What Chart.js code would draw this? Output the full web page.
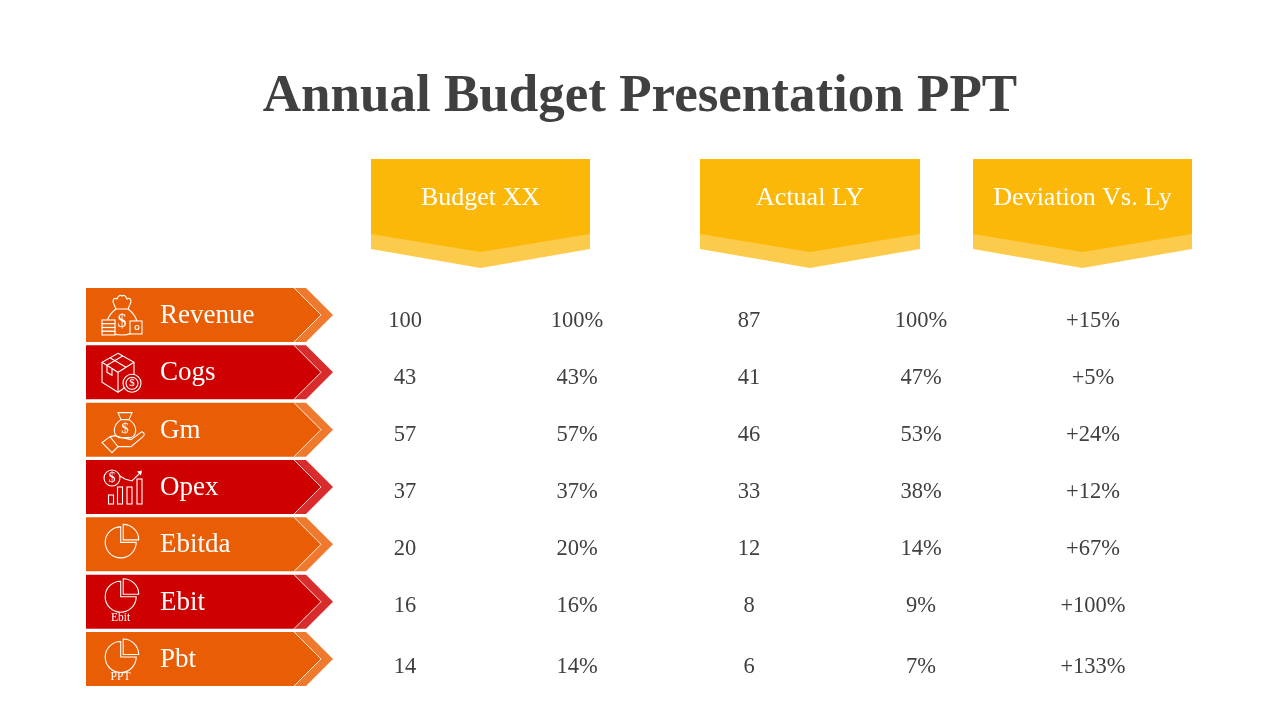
<!DOCTYPE html>
<html>
<head>
<meta charset="utf-8">
<title>Annual Budget Presentation PPT</title>
<script src="https://cdn.jsdelivr.net/npm/chart.js@4"></script>
<style>
  html, body { margin: 0; padding: 0; background: #fff; }
  canvas { display: block; }
</style>
</head>
<body>
<canvas id="budgetChart" width="1280" height="720"></canvas>
<script>
// Values
const chartTitle = 'Annual Budget Presentation PPT';
const headers = ['Budget XX', 'Actual LY', 'Deviation Vs. Ly'];
const rows = ['Revenue', 'Cogs', 'Gm', 'Opex', 'Ebitda', 'Ebit', 'Pbt'];
const columns = ['Budget', 'Budget %', 'Actual', 'Actual %', 'Deviation'];
const budgetValues = [100, 43, 57, 37, 20, 16, 14];
const budgetShares = [100, 43, 57, 37, 20, 16, 14];
const actualValues = [87, 41, 46, 33, 12, 8, 6];
const actualShares = [100, 47, 53, 38, 14, 9, 7];
const deviations = [15, 5, 24, 12, 67, 100, 133];

const SERIF = '"Liberation Serif", serif';
const ORANGE = ['#E95E05', '#EF7A2E'];
const RED = ['#CE0000', '#D92D2D'];
const TEXT = '#404040';

// text sits slightly below the arrow centre, the last row a bit more
const cellNudge = [5, 5, 4, 4, 4, 3, 7];

function cells(column, values, format) {
  return {
    label: column,
    data: rows.map((row) => ({ x: column, y: row })),
    cellText: values.map(format),
    pointRadius: 0,
    pointHoverRadius: 0
  };
}

const plain = (v) => String(v);
const percent = (v) => v + '%';
const signed = (v) => '+' + v + '%';

function path(ctx, pts, close) {
  ctx.beginPath();
  pts.forEach((p, i) => (i ? ctx.lineTo(p[0], p[1]) : ctx.moveTo(p[0], p[1])));
  if (close) ctx.closePath();
}

function smallText(ctx, text, x, y, size) {
  ctx.save();
  ctx.fillStyle = '#fff';
  ctx.font = size + 'px ' + SERIF;
  ctx.textAlign = 'center';
  ctx.textBaseline = 'middle';
  ctx.fillText(text, x, y);
  ctx.restore();
}

// Icons are drawn around the row centre, y = 0 is the middle of the arrow
function iconRevenue(ctx, fill) {
  ctx.beginPath();
  ctx.moveTo(116, -6);
  ctx.bezierCurveTo(108, 0, 105, 8, 108, 14);
  ctx.quadraticCurveTo(111, 20, 122, 20);
  ctx.quadraticCurveTo(133, 20, 136, 14);
  ctx.bezierCurveTo(139, 8, 136, 0, 128, -6);
  ctx.closePath();
  ctx.stroke();
  ctx.beginPath();
  ctx.moveTo(116, -6);
  ctx.lineTo(113, -13);
  ctx.quadraticCurveTo(113, -18, 117, -16);
  ctx.quadraticCurveTo(119, -21, 122, -19);
  ctx.quadraticCurveTo(125, -21, 127, -16);
  ctx.quadraticCurveTo(131, -18, 131, -13);
  ctx.lineTo(128, -6);
  ctx.stroke();
  ctx.fillStyle = fill;
  ctx.fillRect(130, 6, 12, 13);
  ctx.strokeRect(130, 6, 12, 13);
  ctx.beginPath();
  ctx.arc(137, 12.5, 2, 0, Math.PI * 2);
  ctx.stroke();
  for (let i = 0; i < 4; i++) {
    ctx.fillStyle = fill;
    ctx.fillRect(102, 5 + i * 3.8, 13, 3.6);
    ctx.strokeRect(102, 5 + i * 3.8, 13, 3.6);
  }
  smallText(ctx, '$', 122, 7, 18);
}

function iconCogs(ctx, fill) {
  path(ctx, [[118, -19], [134, -10], [134, 9], [118, 20], [102, 10], [102, -10]], true);
  ctx.stroke();
  path(ctx, [[102, -10], [118, 0], [134, -10]]);
  ctx.stroke();
  path(ctx, [[118, 0], [118, 20]]);
  ctx.stroke();
  path(ctx, [[110, -14.5], [126, -5]]);
  ctx.stroke();
  path(ctx, [[107, -7], [123, -16.5]]);
  ctx.stroke();
  path(ctx, [[107, -7], [107, 0], [112, 3], [112, -3.5]]);
  ctx.stroke();
  ctx.fillStyle = fill;
  ctx.beginPath();
  ctx.arc(132, 11, 9, 0, Math.PI * 2);
  ctx.fill();
  ctx.stroke();
  ctx.beginPath();
  ctx.arc(132, 11, 6, 0, Math.PI * 2);
  ctx.stroke();
  smallText(ctx, '$', 132, 11, 11);
}

function iconGm(ctx, fill) {
  ctx.beginPath();
  ctx.moveTo(121, -10);
  ctx.bezierCurveTo(113, -5, 112, 5, 119, 8);
  ctx.lineTo(131, 8);
  ctx.bezierCurveTo(138, 5, 137, -5, 129, -10);
  ctx.closePath();
  ctx.stroke();
  path(ctx, [[121, -10], [118, -17], [132, -17], [129, -10]]);
  ctx.stroke();
  smallText(ctx, '$', 125, -1, 15);
  path(ctx, [[102, 13], [110, 7], [118, 17], [112, 23]], true);
  ctx.stroke();
  ctx.beginPath();
  ctx.moveTo(110, 7);
  ctx.lineTo(115, 6);
  ctx.lineTo(122, 8);
  ctx.lineTo(131, 10);
  ctx.lineTo(142, 2);
  ctx.quadraticCurveTo(146, 4, 143, 7);
  ctx.lineTo(131, 17);
  ctx.lineTo(118, 17);
  ctx.stroke();
}

function iconOpex(ctx) {
  ctx.beginPath();
  ctx.arc(112, -9, 8, 0, Math.PI * 2);
  ctx.stroke();
  smallText(ctx, '$', 112, -9, 14);
  path(ctx, [[120, -11], [125, -8], [132, -6], [141, -15]]);
  ctx.stroke();
  path(ctx, [[137, -15.5], [142, -16.5], [141, -11.5]], true);
  ctx.fillStyle = '#fff';
  ctx.fill();
  ctx.strokeRect(108.5, 8, 5, 9);
  ctx.strokeRect(117.5, 0, 5, 17);
  ctx.strokeRect(127, 0, 5, 17);
  ctx.strokeRect(137, -8, 5, 25);
}

function iconPie(ctx, dy, caption) {
  ctx.beginPath();
  ctx.arc(120.7, dy, 15.5, 0, Math.PI * 1.5);
  ctx.lineTo(120.7, dy);
  ctx.closePath();
  ctx.stroke();
  ctx.beginPath();
  ctx.moveTo(123.2, dy - 2.5);
  ctx.arc(123.2, dy - 2.5, 15.5, -Math.PI / 2, 0);
  ctx.closePath();
  ctx.stroke();
  if (caption) smallText(ctx, caption.text, 120.5, caption.y, 11.5);
}

const rowIcons = [
  iconRevenue,
  iconCogs,
  iconGm,
  iconOpex,
  (ctx) => iconPie(ctx, -2),
  (ctx) => iconPie(ctx, -5, { text: 'Ebit', y: 16 }),
  (ctx) => iconPie(ctx, -2, { text: 'PPT', y: 18 })
];

// Banners, arrows and title go under the axis text, cell values on top
const slidePlugin = {
  id: 'slide',
  beforeDraw(chart) {
    const ctx = chart.ctx;
    ctx.save();

    ctx.fillStyle = '#fff';
    ctx.fillRect(0, 0, chart.width, chart.height);

    ctx.fillStyle = TEXT;
    ctx.font = 'bold 53px ' + SERIF;
    ctx.textAlign = 'center';
    ctx.textBaseline = 'middle';
    ctx.fillText(chartTitle, 640, 97);

    const banners = [[371, 590], [700, 920], [973, 1192]];
    banners.forEach((b, i) => {
      const mid = (b[0] + b[1]) / 2;
      path(ctx, [[b[0], 233], [mid, 251], [b[1], 233], [b[1], 249], [mid, 268], [b[0], 249]], true);
      ctx.fillStyle = '#FDCB4B';
      ctx.fill();
      path(ctx, [[b[0], 159], [b[1], 159], [b[1], 234], [mid, 252], [b[0], 234]], true);
      ctx.fillStyle = '#FBB809';
      ctx.fill();
      ctx.fillStyle = '#fff';
      ctx.font = '26px ' + SERIF;
      ctx.fillText(headers[i], mid, 198);
    });

    const yScale = chart.scales.y;
    rows.forEach((row, i) => {
      // axis text sits 1px under the arrow centre
      const c = yScale.getPixelForValue(i) - 1;
      const top = c - 27;
      const bottom = c + 27;
      const colors = i % 2 ? RED : ORANGE;

      path(ctx, [[294, top], [306, top], [333, c], [306, bottom], [294, bottom], [321, c]], true);
      ctx.fillStyle = colors[1];
      ctx.fill();
      path(ctx, [[86, top], [294, top], [321, c], [294, bottom], [86, bottom]], true);
      ctx.fillStyle = colors[0];
      ctx.fill();
      path(ctx, [[294, top], [321, c], [294, bottom]]);
      ctx.strokeStyle = 'rgba(255,255,255,0.75)';
      ctx.lineWidth = 1;
      ctx.stroke();

      ctx.save();
      ctx.translate(0, c);
      ctx.strokeStyle = '#fff';
      ctx.lineWidth = 1.1;
      rowIcons[i](ctx, colors[0]);
      ctx.restore();
    });
    ctx.restore();
  },
  afterDatasetsDraw(chart) {
    const ctx = chart.ctx;
    ctx.save();
    ctx.fillStyle = TEXT;
    ctx.font = '22.5px ' + SERIF;
    ctx.textAlign = 'center';
    ctx.textBaseline = 'middle';
    chart.data.datasets.forEach((ds, d) => {
      chart.getDatasetMeta(d).data.forEach((pt, i) => {
        ctx.fillText(ds.cellText[i], pt.x, pt.y + cellNudge[i]);
      });
    });
    ctx.restore();
  }
};

const ctx = document.getElementById('budgetChart').getContext('2d');
const budgetChart = new Chart(ctx, {
  type: 'scatter',
  data: {
    datasets: [
      cells(columns[0], budgetValues, plain),
      cells(columns[1], budgetShares, percent),
      cells(columns[2], actualValues, plain),
      cells(columns[3], actualShares, percent),
      cells(columns[4], deviations, signed)
    ]
  },
  options: {
    responsive: false,
    animation: false,
    layout: { padding: { left: 160, right: 101, top: 287.3, bottom: 31.3 } },
    plugins: {
      legend: { display: false },
      tooltip: { enabled: false }
    },
    scales: {
      x: {
        type: 'category',
        labels: columns,
        offset: true,
        display: false
      },
      y: {
        type: 'category',
        labels: rows,
        offset: true,
        grid: { display: false },
        border: { display: false },
        afterFit(scale) { scale.width = 159; },
        ticks: {
          color: '#fff',
          crossAlign: 'far',
          autoSkip: false,
          font: { family: SERIF, size: 27 }
        }
      }
    }
  },
  plugins: [slidePlugin]
});
</script>
</body>
</html>
